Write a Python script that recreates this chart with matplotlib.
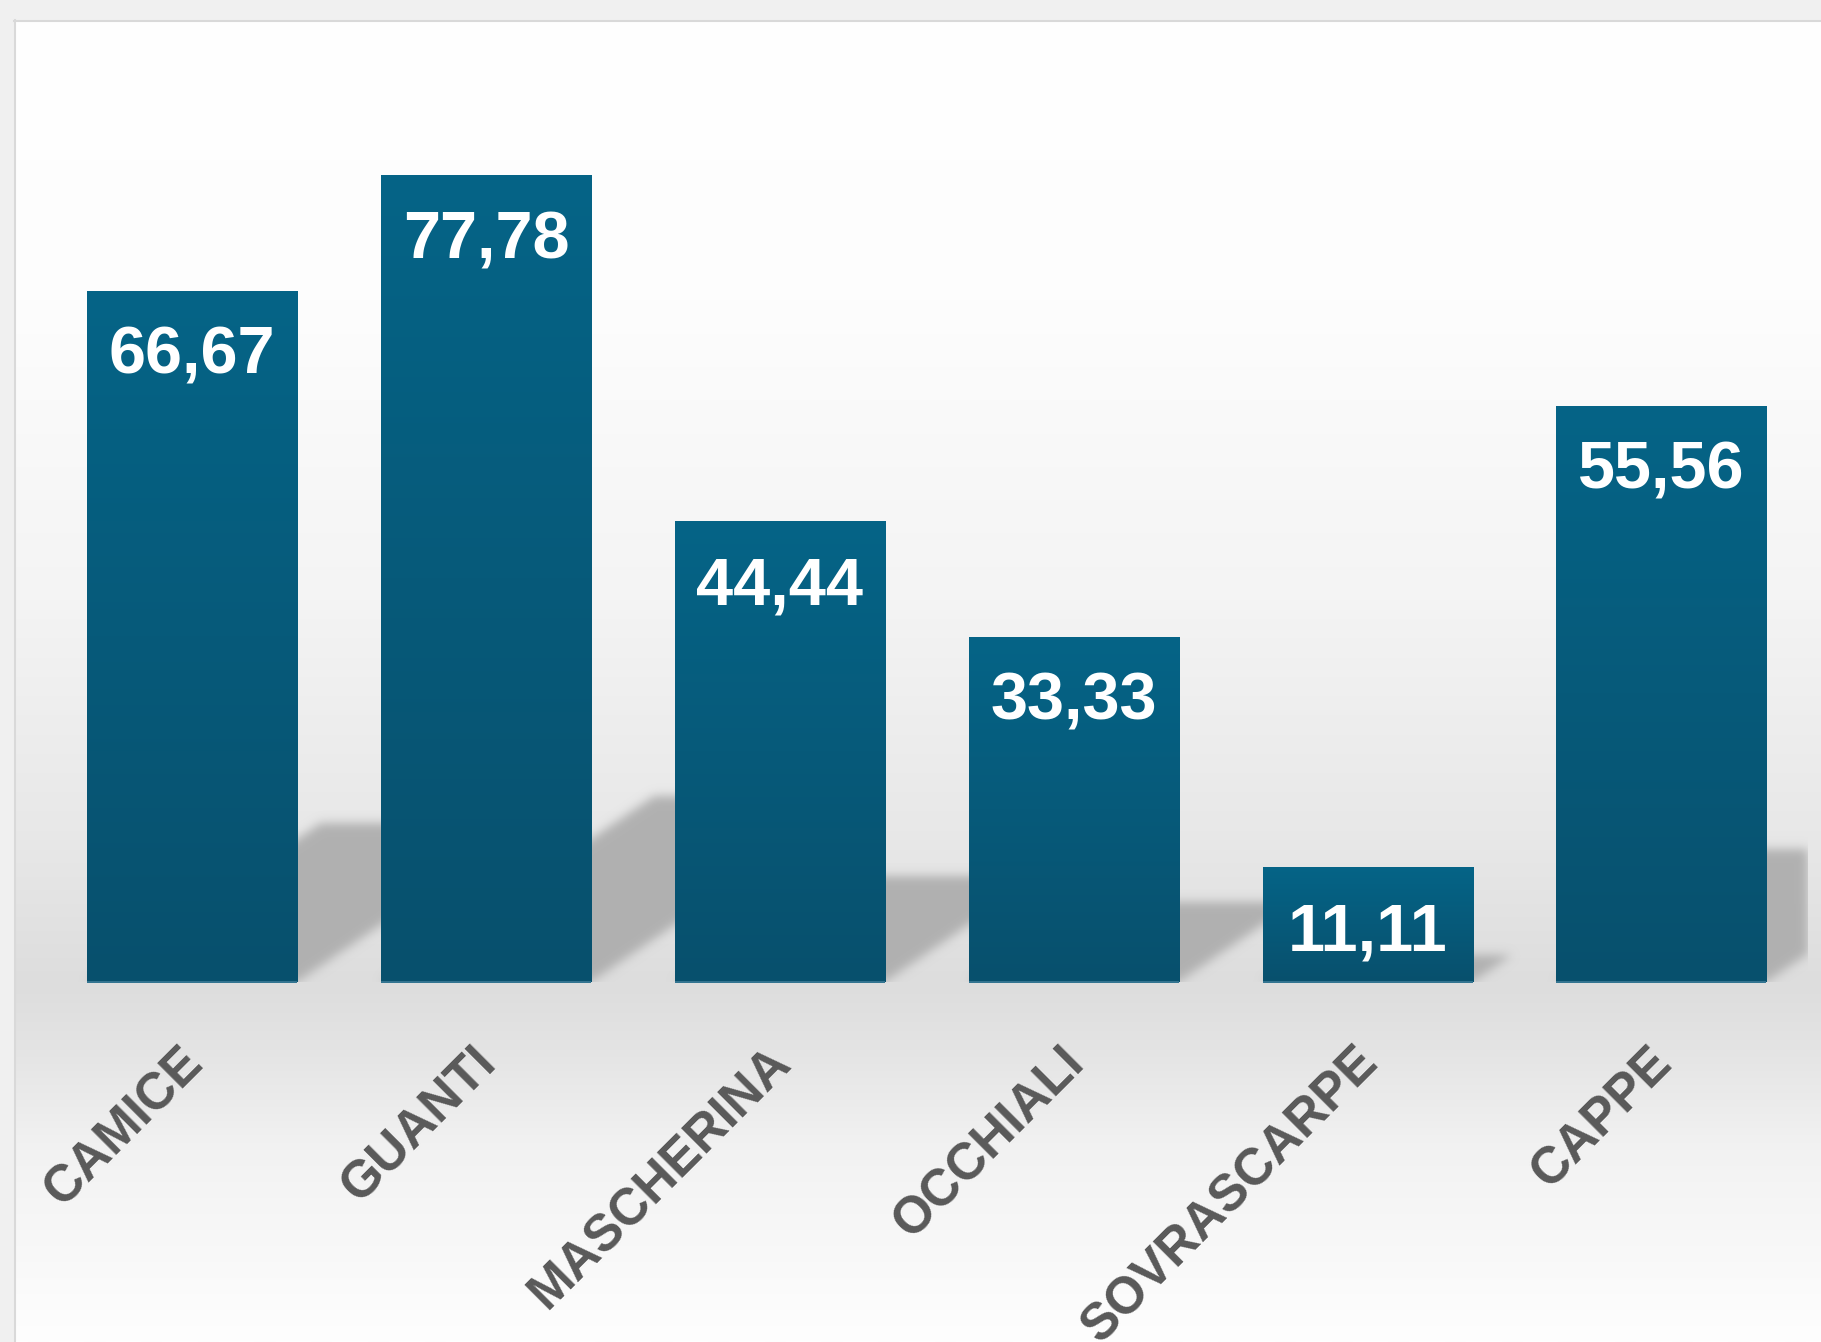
import numpy as np
import matplotlib
matplotlib.use('Agg')
import matplotlib.pyplot as plt
from matplotlib.patches import Rectangle

categories = ["CAMICE", "GUANTI", "MASCHERINA", "OCCHIALI", "SOVRASCARPE", "CAPPE"]
values = [66.67, 77.78, 44.44, 33.33, 11.11, 55.56]
value_labels = ["66,67", "77,78", "44,44", "33,33", "11,11", "55,56"]

W, H = 1821, 1342
DPI = 100
fig = plt.figure(figsize=(W / DPI, H / DPI), dpi=DPI)

# ---------- background panel ----------
bg = fig.add_axes([0, 0, 1, 1])
bg.axis('off')
bg.add_patch(Rectangle((0, 0), W, H, color='#f0f0f0', zorder=0))
stops_y = [20, 300, 600, 850, 985, 1050, 1150, 1342]
stops_v = [255, 253, 244, 231, 221, 228, 242, 254]
yy = np.arange(20, H + 1)
col = np.interp(yy, stops_y, stops_v) / 255.0
grad = col[:, None, None] * np.ones((1, 1, 3))
bg.imshow(grad, extent=(14, W + 5, H, 20), aspect='auto', zorder=1,
          interpolation='bilinear')
bg.plot([14.5, 14.5], [20, H], color='#d9d9d9', lw=1.5, zorder=2)
bg.plot([14, W], [20.5, 20.5], color='#d9d9d9', lw=1.5, zorder=2)
bg.set_xlim(0, W)
bg.set_ylim(H, 0)

# ---------- main axes ----------
left_px, right_px = 45.3, 1808.3
base_px = 982.5  # from top
ymax = 90.0
unit_px = 10.377
ax_h = ymax * unit_px
ax = fig.add_axes([left_px / W, (H - base_px) / H, (right_px - left_px) / W, ax_h / H])
ax.set_facecolor('none')
for s in ax.spines.values():
    s.set_visible(False)
ax.set_xticks([])
ax.set_yticks([])
n = len(categories)
ax.set_xlim(-0.5, n - 0.5)
ax.set_ylim(0, ymax)

bw = 0.715
x = np.arange(n)
bars = ax.bar(x, values, width=bw, color='#065a7c', zorder=3, linewidth=0)

# ---------- shadows (computed from bar geometry) ----------
fig.canvas.draw()
T = ax.transData
bbox = ax.get_window_extent()
gw, gh = int(round(bbox.width)), int(round(bbox.height))
X = np.arange(gw)[None, :] + 0.5
Y = np.arange(gh)[:, None] + 0.5
mask = np.zeros((gh, gw))
c_ratio = 0.23
slope = 0.68
for b, v in zip(bars, values):
    xl = b.get_x()
    xr = xl + b.get_width()
    (px0, py0) = T.transform((xl, 0)) - np.array([bbox.x0, bbox.y0])
    (px1, _) = T.transform((xr, 0)) - np.array([bbox.x0, bbox.y0])
    hpx = T.transform((0, v))[1] - T.transform((0, 0))[1]
    top = c_ratio * hpx
    shift = Y / slope
    inside = (Y >= py0) & (Y <= py0 + top) & (X >= px0 + shift) & (X <= px1 + shift)
    mask = np.maximum(mask, inside.astype(float))

sigma = 5.0
k = np.arange(-int(3 * sigma), int(3 * sigma) + 1)
kern = np.exp(-k ** 2 / (2 * sigma ** 2))
kern /= kern.sum()
mask = np.apply_along_axis(lambda r: np.convolve(r, kern, mode='same'), 1, mask)
mask = np.apply_along_axis(lambda r: np.convolve(r, kern, mode='same'), 0, mask)
rgba = np.zeros((gh, gw, 4))
rgba[..., :3] = 0.69
rgba[..., 3] = np.clip(mask, 0, 1) * 0.97
ax.imshow(rgba, extent=(-0.5, n - 0.5, 0, ymax), origin='lower', aspect='auto',
          zorder=1, interpolation='bilinear')

# ---------- bar gradients ----------
top_c = np.array([5, 100, 135]) / 255.0
bot_c = np.array([8, 80, 109]) / 255.0
tt = np.linspace(0, 1, 256)[:, None]
bar_grad = (top_c[None, :] * (1 - tt) + bot_c[None, :] * tt)[:, None, :]
for b, v in zip(bars, values):
    xl = b.get_x()
    xr = xl + b.get_width()
    im = ax.imshow(bar_grad, extent=(xl, xr, 0, v), origin='upper', aspect='auto',
                   zorder=4, interpolation='bilinear')
    im.set_clip_path(b)
    ax.plot([xl, xr], [0.08, 0.08], color='#3d7b96', lw=1.2, zorder=5,
            solid_capstyle='butt')

# ---------- value labels ----------
for i, (v, lab) in enumerate(zip(values, value_labels)):
    ax.annotate(lab, xy=(i, v), xytext=(0, -83), textcoords='offset pixels',
                ha='center', va='baseline', color='white', fontsize=48,
                fontweight='bold', family='Liberation Sans', zorder=6)

# ---------- category labels ----------
for i, cat in enumerate(categories):
    ax.annotate(cat, xy=(i, 0), xytext=(13, -82), textcoords='offset pixels',
                rotation=45, rotation_mode='anchor', ha='right', va='baseline',
                color='#595959', fontsize=37, fontweight='bold',
                family='Liberation Sans', annotation_clip=False, zorder=6)

ax.set_xlim(-0.5, n - 0.5)
ax.set_ylim(0, ymax)
fig.savefig('out.png', dpi=DPI)
